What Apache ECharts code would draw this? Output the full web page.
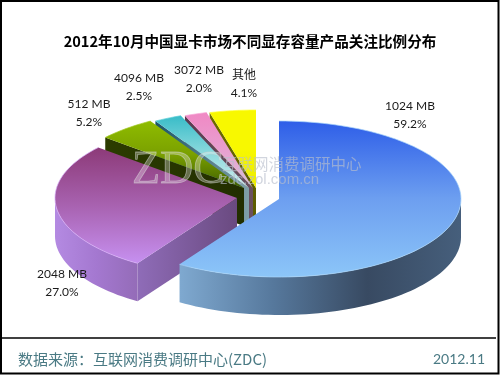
<!DOCTYPE html>
<html>
<head>
<meta charset="utf-8">
<title>显存容量关注比例</title>
<style>
    html, body { margin: 0; padding: 0; background: #fff; }
    #chart { width: 500px; height: 375px; }
</style>
</head>
<body>
<div id="chart"></div>
<script src="https://cdn.jsdelivr.net/npm/echarts@6/dist/echarts.min.js"></script>
<script>
    var categories = ['1024 MB', '2048 MB', '512 MB', '4096 MB', '3072 MB', '其他'];
    var shares = [59.2, 27.0, 5.2, 2.5, 2.0, 4.1];

    var FONT = 'Lato, "Noto Sans CJK SC", sans-serif';
    var RX = 182, RY = 78, DEPTH = 38;

    // 每块的位置和颜色
    var sliceStyles = [
        {cx: 279, cy: 199, top: ['#2e5ee8', '#6d9ff0', '#8cc6f8'], rim: '#a8d4fa', wall: ['#7fa9d0', '#56789c', '#384a62', '#465f7c'], labelX: 410, labelY: 115},
        {cx: 237, cy: 198, top: ['#8c3a78', '#a862b0', '#c690f0'], rim: '#d8b0f8', wall: ['#b48ae2', '#a478d0', '#946cb8'], cut: ['#8f6cb8', '#6a4a80'], labelX: 62, labelY: 283},
        {cx: 244, cy: 188, top: ['#8fbc00', '#7aa000', '#3f5e00'], rim: '#a0c820', cut: ['#2c3c00', '#222e00'], labelX: 89, labelY: 113},
        {cx: 249, cy: 188, top: ['#38bcc8', '#88d8dc', '#d4f0f0'], rim: '#60d0d8', cut: ['#1c5468', '#80a0a8'], labelX: 139, labelY: 87},
        {cx: 253, cy: 188, top: ['#f088c4', '#e8a0d0', '#d8c0d8'], rim: '#f8a8d8', cut: ['#5c3a50', '#6a5060'], labelX: 199, labelY: 79},
        {cx: 256, cy: 188, top: ['#f8f800', '#f8f800', '#ecec00'], rim: '#ffff40', cut: ['#6c6c00', '#5c5c00'], labelX: 244, labelY: 84}
    ];

    // 累计角度，顺时针，从正上方开始
    var startAngles = [];
    var total = 0;
    var i;
    for (i = 0; i < shares.length; i++) {
        total += shares[i];
    }
    var sum = 0;
    for (i = 0; i < shares.length; i++) {
        startAngles.push(sum / total * 360);
        sum += shares[i];
    }

    function arcPoint(style, deg, dy) {
        var rad = deg * Math.PI / 180;
        return [style.cx + RX * Math.sin(rad), style.cy - RY * Math.cos(rad) + (dy || 0)];
    }

    function arcPoints(style, from, to, dy) {
        var pts = [];
        var steps = Math.max(2, Math.ceil((to - from) / 2));
        for (var k = 0; k <= steps; k++) {
            pts.push(arcPoint(style, from + (to - from) * k / steps, dy));
        }
        return pts;
    }

    function stops(colors) {
        return colors.map(function (c, idx) {
            return {offset: idx / (colors.length - 1), color: c};
        });
    }

    function renderSlice(params, api) {
        var idx = api.value(0);
        var style = sliceStyles[idx];
        var a0 = startAngles[idx];
        var a1 = a0 + shares[idx] / total * 360;
        var children = [];

        // 切面
        if (style.cut) {
            var p = arcPoint(style, a0);
            children.push({
                type: 'polygon',
                shape: {points: [p, [style.cx, style.cy], [style.cx, style.cy + DEPTH], [p[0], p[1] + DEPTH]]},
                style: {fill: new echarts.graphic.LinearGradient(0, 0, 1, 0, stops(style.cut))}
            });
        }

        // 外侧面
        var w0 = Math.max(a0, 90), w1 = Math.min(a1, 270);
        if (style.wall && w1 > w0) {
            var upper = arcPoints(style, w0, w1, 0);
            var lower = arcPoints(style, w0, w1, DEPTH).reverse();
            children.push({
                type: 'polygon',
                shape: {points: upper.concat(lower)},
                style: {fill: new echarts.graphic.LinearGradient(0, 0, 1, 0, stops(style.wall))}
            });
        }

        // 顶面
        var face = [[style.cx, style.cy]].concat(arcPoints(style, a0, a1, 0));
        children.push({
            type: 'polygon',
            shape: {points: face},
            style: {fill: new echarts.graphic.LinearGradient(0, 0, 0, 1, stops(style.top))}
        });
        children.push({
            type: 'polyline',
            shape: {points: arcPoints(style, a0, a1, 0)},
            style: {fill: null, stroke: style.rim, lineWidth: 1, opacity: 0.7}
        });

        // 标签
        children.push({
            type: 'text',
            style: {
                x: style.labelX,
                y: style.labelY,
                text: categories[idx] + '\n' + shares[idx].toFixed(1) + '%',
                font: '12px ' + FONT,
                lineHeight: 18,
                fill: '#1a1a1a',
                align: 'center',
                verticalAlign: 'middle'
            }
        });
        return {type: 'group', children: children};
    }

    // 从后往前画
    var drawOrder = [5, 4, 3, 2, 1, 0];

    var myChart = echarts.init(document.getElementById('chart'));
    myChart.setOption({
        animation: false,
        backgroundColor: '#fff',
        title: {
            text: '2012年10月中国显卡市场不同显存容量产品关注比例分布',
            left: 'center',
            top: 29,
            textStyle: {fontFamily: '"Noto Sans CJK SC", sans-serif', fontSize: 14.6, fontWeight: 'bold', color: '#000'}
        },
        series: [{
            type: 'custom',
            coordinateSystem: 'none',
            silent: true,
            data: drawOrder.map(function (idx) { return [idx]; }),
            renderItem: renderSlice
        }],
        graphic: {
            elements: [
                {type: 'rect', z: 50, shape: {x: 1, y: 1, width: 497.5, height: 372.5}, style: {fill: null, stroke: '#000', lineWidth: 2}},
                {type: 'line', z: 50, shape: {x1: 2, y1: 338, x2: 496, y2: 338}, style: {stroke: '#000', lineWidth: 1.5}},
                {type: 'text', z: 50, style: {x: 18, y: 359, text: '数据来源：互联网消费调研中心(ZDC)', font: '15px "Noto Sans CJK SC", sans-serif', fill: '#4a7a84', verticalAlign: 'middle'}},
                {type: 'text', z: 50, style: {x: 485, y: 359, text: '2012.11', font: '14px ' + FONT, fill: '#4a7a84', align: 'right', verticalAlign: 'middle'}},
                {type: 'text', z: 60, style: {x: 132, y: 171, text: 'ZDC', font: '46px "Liberation Serif", serif', fill: 'rgba(255,255,255,0.3)', stroke: 'rgba(205,205,205,0.55)', lineWidth: 0.8, verticalAlign: 'middle'}},
                {type: 'text', z: 60, style: {x: 222, y: 164, text: '互联网消费调研中心', font: '15.5px "Noto Sans CJK SC", sans-serif', fill: 'rgba(185,190,205,0.65)', verticalAlign: 'middle'}},
                {type: 'text', z: 60, style: {x: 220, y: 180, text: 'zdc.zol.com.cn', font: '15px "Liberation Sans", sans-serif', fill: 'rgba(185,190,205,0.65)', verticalAlign: 'middle'}}
            ]
        }
    });
</script>
</body>
</html>
